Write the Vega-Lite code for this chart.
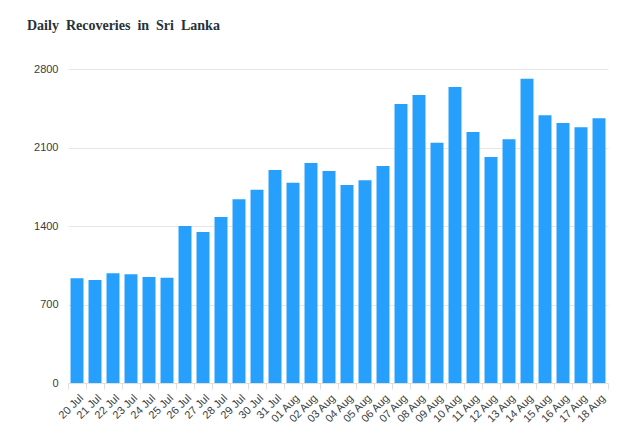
{
  "$schema": "https://vega.github.io/schema/vega-lite/v6.json",
  "width": 540,
  "height": 314,
  "autosize": {"type": "none"},
  "padding": {"left": 68, "top": 69, "right": 22, "bottom": 64},
  "background": "white",
  "title": {
    "text": "Daily \u00a0Recoveries \u00a0in \u00a0Sri \u00a0Lanka",
    "anchor": "start",
    "frame": "group",
    "font": "Liberation Serif",
    "fontSize": 14,
    "fontWeight": "bold",
    "color": "#263238",
    "dx": -41,
    "offset": 19,
    "baseline": "alphabetic"
  },
  "config": {
    "view": {"stroke": null},
    "axis": {
      "labelFont": "Liberation Sans",
      "labelFontSize": 11,
      "labelColor": "#373d3f"
    }
  },
  "data": {
    "values": [
      {"date": "20 Jul", "recoveries": 933},
      {"date": "21 Jul", "recoveries": 918},
      {"date": "22 Jul", "recoveries": 978},
      {"date": "23 Jul", "recoveries": 969},
      {"date": "24 Jul", "recoveries": 945},
      {"date": "25 Jul", "recoveries": 939},
      {"date": "26 Jul", "recoveries": 1400},
      {"date": "27 Jul", "recoveries": 1346},
      {"date": "28 Jul", "recoveries": 1480},
      {"date": "29 Jul", "recoveries": 1638},
      {"date": "30 Jul", "recoveries": 1724},
      {"date": "31 Jul", "recoveries": 1899},
      {"date": "01 Aug", "recoveries": 1786},
      {"date": "02 Aug", "recoveries": 1962},
      {"date": "03 Aug", "recoveries": 1890},
      {"date": "04 Aug", "recoveries": 1765},
      {"date": "05 Aug", "recoveries": 1807},
      {"date": "06 Aug", "recoveries": 1935},
      {"date": "07 Aug", "recoveries": 2488},
      {"date": "08 Aug", "recoveries": 2568},
      {"date": "09 Aug", "recoveries": 2143},
      {"date": "10 Aug", "recoveries": 2639},
      {"date": "11 Aug", "recoveries": 2238},
      {"date": "12 Aug", "recoveries": 2015},
      {"date": "13 Aug", "recoveries": 2173},
      {"date": "14 Aug", "recoveries": 2713},
      {"date": "15 Aug", "recoveries": 2387},
      {"date": "16 Aug", "recoveries": 2318},
      {"date": "17 Aug", "recoveries": 2280},
      {"date": "18 Aug", "recoveries": 2360}
    ]
  },
  "mark": {"type": "bar", "color": "#26A0FC", "width": {"band": 0.72}},
  "encoding": {
    "x": {
      "field": "date",
      "type": "nominal",
      "sort": null,
      "scale": {"paddingInner": 0, "paddingOuter": 0},
      "axis": {
        "title": null,
        "labelAngle": -45,
        "tickBand": "extent",
        "tickSize": 6,
        "tickColor": "#e0e0e0",
        "domainColor": "#e0e0e0",
        "labelPadding": 3,
        "grid": false
      }
    },
    "y": {
      "field": "recoveries",
      "type": "quantitative",
      "scale": {"domain": [0, 2800], "nice": false},
      "axis": {
        "title": null,
        "values": [0, 700, 1400, 2100, 2800],
        "format": "d",
        "ticks": false,
        "domain": false,
        "gridColor": "#e6e6e6",
        "labelPadding": 10
      }
    }
  }
}
